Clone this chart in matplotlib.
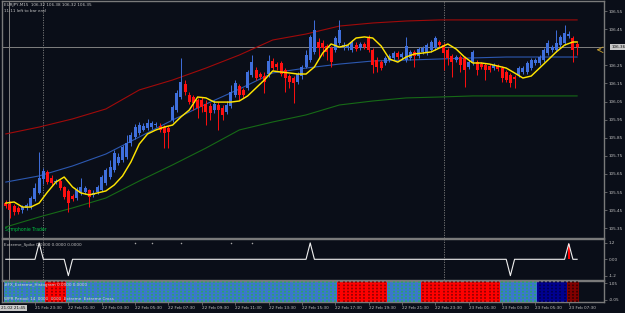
import matplotlib
matplotlib.use('Agg')
import matplotlib.pyplot as plt
import numpy as np

# EURJPY M15 candles, 21 Feb 21:45 .. 23 Feb 08:00 (bar index 0..137)
opens = [105.489, 105.484, 105.473, 105.462, 105.451, 105.462, 105.467, 105.512, 105.545, 105.622,
         105.661, 105.628, 105.605, 105.611, 105.578, 105.556, 105.528, 105.517, 105.545, 105.550,
         105.561, 105.534, 105.550, 105.561, 105.600, 105.633, 105.672, 105.710, 105.727, 105.744,
         105.821, 105.854, 105.876, 105.893, 105.904, 105.909, 105.920, 105.915, 105.909, 105.904,
         105.948, 106.003, 106.075, 106.147, 106.086, 106.075, 106.059, 106.059, 106.036, 106.025,
         106.003, 106.031, 106.014, 105.992, 106.025, 106.086, 106.136, 106.114, 106.125, 106.197,
         106.224, 106.202, 106.191, 106.202, 106.274, 106.257, 106.263, 106.224, 106.191, 106.180,
         106.158, 106.191, 106.241, 106.279, 106.324, 106.379, 106.373, 106.357, 106.346, 106.335,
         106.373, 106.351, 106.346, 106.335, 106.362, 106.346, 106.368, 106.407, 106.335, 106.279,
         106.268, 106.263, 106.279, 106.291, 106.318, 106.296, 106.279, 106.291, 106.324, 106.302,
         106.324, 106.318, 106.335, 106.346, 106.379, 106.362, 106.335, 106.302, 106.279, 106.296,
         106.291, 106.241, 106.263, 106.268, 106.257, 106.252, 106.246, 106.235, 106.246, 106.235,
         106.213, 106.197, 106.186, 106.197, 106.213, 106.213, 106.235, 106.263, 106.263, 106.279,
         106.318, 106.335, 106.335, 106.362, 106.373, 106.412, 106.401, 106.368]
highs = [105.506, 105.500, 105.484, 105.473, 105.478, 105.489, 105.528, 105.600, 105.771, 105.683,
         105.672, 105.644, 105.622, 105.622, 105.583, 105.567, 105.539, 105.578, 105.628, 105.583,
         105.567, 105.561, 105.589, 105.644, 105.683, 105.727, 105.782, 105.766, 105.810, 105.865,
         105.882, 105.926, 105.937, 105.931, 105.954, 105.942, 105.937, 105.931, 105.920, 105.915,
         106.031, 106.114, 106.291, 106.169, 106.103, 106.086, 106.070, 106.075, 106.059, 106.042,
         106.059, 106.047, 106.031, 106.053, 106.141, 106.169, 106.147, 106.125, 106.224, 106.307,
         106.241, 106.213, 106.213, 106.307, 106.291, 106.268, 106.274, 106.235, 106.202, 106.191,
         106.213, 106.252, 106.335, 106.418, 106.501, 106.401, 106.390, 106.368, 106.357, 106.412,
         106.501, 106.379, 106.368, 106.390, 106.379, 106.379, 106.379, 106.418, 106.346, 106.296,
         106.279, 106.302, 106.313, 106.329, 106.329, 106.324, 106.407, 106.335, 106.335, 106.351,
         106.357, 106.373, 106.390, 106.412, 106.390, 106.373, 106.346, 106.313, 106.307, 106.307,
         106.302, 106.279, 106.335, 106.279, 106.268, 106.263, 106.257, 106.263, 106.257, 106.246,
         106.224, 106.208, 106.197, 106.246, 106.246, 106.274, 106.291, 106.291, 106.307, 106.346,
         106.390, 106.362, 106.445, 106.418, 106.473, 106.440, 106.412, 106.379]
lows = [105.462, 105.407, 105.423, 105.429, 105.434, 105.451, 105.456, 105.500, 105.539, 105.594,
        105.594, 105.589, 105.594, 105.561, 105.512, 105.440, 105.500, 105.506, 105.534, 105.539,
        105.467, 105.523, 105.539, 105.556, 105.589, 105.622, 105.661, 105.700, 105.716, 105.733,
        105.804, 105.843, 105.865, 105.887, 105.893, 105.898, 105.909, 105.882, 105.793, 105.793,
        105.937, 105.992, 106.064, 106.086, 106.036, 106.003, 105.959, 105.992, 105.920, 105.948,
        105.987, 105.893, 105.948, 105.981, 106.014, 106.075, 106.059, 106.070, 106.114, 106.186,
        106.169, 106.175, 106.097, 106.186, 106.224, 106.224, 106.191, 106.103, 106.125, 106.042,
        106.147, 106.175, 106.235, 106.268, 106.313, 106.291, 106.302, 106.279, 106.241, 106.324,
        106.362, 106.335, 106.335, 106.324, 106.329, 106.335, 106.340, 106.324, 106.208, 106.213,
        106.224, 106.252, 106.268, 106.279, 106.285, 106.285, 106.268, 106.279, 106.241, 106.291,
        106.313, 106.307, 106.324, 106.335, 106.351, 106.224, 106.252, 106.186, 106.268, 106.213,
        106.130, 106.230, 106.252, 106.197, 106.230, 106.169, 106.213, 106.224, 106.219, 106.158,
        106.158, 106.130, 106.125, 106.186, 106.202, 106.202, 106.224, 106.252, 106.252, 106.268,
        106.307, 106.324, 106.324, 106.351, 106.362, 106.401, 106.268, 106.307]
closes = [105.473, 105.451, 105.440, 105.440, 105.467, 105.478, 105.517, 105.572, 105.628, 105.666,
          105.605, 105.600, 105.611, 105.572, 105.523, 105.489, 105.512, 105.561, 105.578, 105.572,
          105.523, 105.545, 105.578, 105.633, 105.672, 105.688, 105.766, 105.744, 105.799, 105.821,
          105.865, 105.909, 105.920, 105.915, 105.931, 105.931, 105.926, 105.893, 105.876, 105.882,
          106.020, 106.097, 106.158, 106.103, 106.047, 106.042, 106.014, 106.020, 105.992, 105.987,
          106.036, 106.003, 105.976, 106.031, 106.103, 106.152, 106.086, 106.086, 106.213, 106.268,
          106.180, 106.186, 106.158, 106.274, 106.235, 106.241, 106.202, 106.180, 106.158, 106.152,
          106.202, 106.241, 106.307, 106.407, 106.445, 106.346, 106.346, 106.324, 106.268, 106.401,
          106.445, 106.362, 106.357, 106.379, 106.340, 106.368, 106.351, 106.335, 106.252, 106.241,
          106.235, 106.291, 106.302, 106.318, 106.296, 106.313, 106.357, 106.324, 106.302, 106.340,
          106.346, 106.362, 106.379, 106.401, 106.362, 106.318, 106.291, 106.268, 106.296, 106.252,
          106.224, 106.268, 106.324, 106.224, 106.241, 106.224, 106.224, 106.252, 106.230, 106.180,
          106.169, 106.152, 106.175, 106.235, 106.235, 106.263, 106.279, 106.279, 106.296, 106.335,
          106.373, 106.351, 106.373, 106.407, 106.429, 106.423, 106.335, 106.351]

# yellow moving average, read every second bar
ma_bars = list(range(0, 138, 2)) + [137]
ma_vals = [105.489, 105.495, 105.467, 105.467, 105.489, 105.550, 105.605, 105.633, 105.578, 105.545,
           105.534, 105.545, 105.556, 105.589, 105.639, 105.716, 105.815, 105.871, 105.893, 105.909,
           105.920, 105.965, 106.003, 106.075, 106.070, 106.047, 106.047, 106.047, 106.053, 106.081,
           106.125, 106.169, 106.219, 106.213, 106.208, 106.202, 106.202, 106.241, 106.318, 106.368,
           106.351, 106.362, 106.401, 106.407, 106.401, 106.357, 106.285, 106.268, 106.296, 106.313,
           106.318, 106.324, 106.346, 106.368, 106.340, 106.296, 106.263, 106.263, 106.257, 106.246,
           106.235, 106.208, 106.180, 106.191, 106.235, 106.279, 106.324, 106.362, 106.379, 106.379]

# envelope bands, read every eighth bar
band_bars = [0, 8, 16, 24, 32, 40, 48, 56, 64, 72, 80, 88, 96, 104, 112, 120, 128, 137]
band_upper = [105.871, 105.909, 105.954, 106.009, 106.114, 106.169, 106.235, 106.307, 106.390,
              106.423, 106.467, 106.484, 106.495, 106.501, 106.501, 106.501, 106.501, 106.501]
band_mid = [105.605, 105.639, 105.694, 105.760, 105.854, 105.948, 106.036, 106.119, 106.208,
            106.235, 106.257, 106.274, 106.279, 106.285, 106.291, 106.296, 106.296, 106.296]
band_lower = [105.357, 105.412, 105.462, 105.517, 105.611, 105.700, 105.793, 105.893, 105.937,
              105.976, 106.031, 106.053, 106.070, 106.075, 106.081, 106.081, 106.081, 106.081]

# Extreme_Spike indicator
spike_bars = [8, 15, 73, 121, 135]
spike_vals = [1.2, -1.2, 1.2, -1.2, 1.15]
dot_bars = [31, 35, 42, 54, 59]
dot_val = 1.2

# histogram colour runs (state, number of bars)
hist_runs = [('bg', 10), ('red', 5), ('bg', 65), ('red', 12), ('bg', 8),
             ('red', 19), ('bg', 9), ('navy', 7), ('maroon', 3)]

time_ticks = [7, 15, 23, 31, 39, 47, 55, 63, 71, 79, 87, 95, 103, 111, 119, 127, 135]
time_labels = ['21 Feb 23:30', '22 Feb 01:30', '22 Feb 03:30', '22 Feb 05:30', '22 Feb 07:30',
               '22 Feb 09:30', '22 Feb 11:30', '22 Feb 13:30', '22 Feb 15:30', '22 Feb 17:30',
               '22 Feb 19:30', '22 Feb 21:30', '22 Feb 23:30', '23 Feb 01:30', '23 Feb 03:30',
               '23 Feb 05:30', '23 Feb 07:30']
price_ticks = [106.55, 106.45, 106.25, 106.15, 106.05, 105.95, 105.85,
               105.75, 105.65, 105.55, 105.45, 105.35]
last_price = 106.35
day_breaks = [9, 105]

BG = '#0a0e18'
GRID = '#808080'
TXT = '#c4c4c4'
BULL = '#3f6fdc'
BEAR = '#ff1010'
FS = 3.0

fig = plt.figure(figsize=(6.25, 3.13), dpi=100, facecolor=BG)
ax1 = fig.add_axes([2/625, 1-238/313, 602/625, 237/313])
ax2 = fig.add_axes([2/625, 1-280/313, 602/625, 41/313])
ax3 = fig.add_axes([2/625, 1-302/313, 602/625, 21/313])

for ax in (ax1, ax2, ax3):
    ax.set_facecolor(BG)
    ax.set_xlim(-0.91, 143.45)
    for s in ax.spines.values():
        s.set_color('#7a7a7a')
        s.set_linewidth(1.0)
    ax.yaxis.tick_right()
    ax.tick_params(axis='y', length=2, width=0.5, pad=1.5, labelsize=FS,
                   colors=GRID, labelcolor=TXT)
    ax.tick_params(axis='x', bottom=False, labelbottom=False)
    for b in day_breaks:
        ax.axvline(b, color=GRID, lw=0.6, ls=(0, (1.5, 1.5)), zorder=1)
    ax.axvline(0.85, color=GRID, lw=0.7, zorder=1)

# ---- main price panel
ax1.set_ylim(105.296, 106.6055)
ax1.set_yticks(price_ticks)
ax1.set_yticklabels(['%.2f' % p for p in price_ticks])
ax1.axhline(last_price, color=GRID, lw=0.7, zorder=1)

ax1.plot(band_bars, band_upper, color='#a00a0a', lw=0.8, zorder=2)
ax1.plot(band_bars, band_mid, color='#2c58b0', lw=0.8, zorder=2)
ax1.plot(band_bars, band_lower, color='#166a16', lw=0.8, zorder=2)

o = np.array(opens)
c = np.array(closes)
idx = np.arange(len(c))
cols = np.where(c >= o, BULL, BEAR)
ax1.vlines(idx, lows, highs, colors=cols, lw=0.7, zorder=3)
ax1.bar(idx, np.maximum(np.abs(c - o), 0.003), bottom=np.minimum(o, c),
        width=0.72, color=cols, lw=0, zorder=4)

ax1.plot(ma_bars, ma_vals, color='#ffe400', lw=1.05, zorder=5)

ax1.annotate('', xy=(141.0, 106.336), xytext=(143.3, 106.336),
             arrowprops=dict(arrowstyle='->', color='#c8a030', lw=0.6))
ax1.text(1.012, last_price, '106.36', transform=ax1.get_yaxis_transform(),
         fontsize=FS, color='#101010', va='center', ha='left',
         bbox=dict(boxstyle='square,pad=0.25', fc='#c8c8c8', ec='none'), clip_on=False)

ax1.text(0.0035, 0.983, 'EURJPY,M15  106.32 106.38 106.32 106.35', transform=ax1.transAxes,
         fontsize=FS, color=TXT, va='center')
ax1.text(0.0035, 0.958, '11:11 left to bar end', transform=ax1.transAxes,
         fontsize=FS, color=TXT, va='center')
ax1.text(0.005, 0.034, 'Symphonie Trader', transform=ax1.transAxes,
         fontsize=FS + 0.3, color='#00c040', va='center')

# ---- Extreme_Spike panel
spike = np.zeros(len(c))
spike[spike_bars] = spike_vals
ax2.set_ylim(-1.52, 1.49)
ax2.set_yticks([1.2, 0.0, -1.2])
ax2.set_yticklabels(['1.2', '0.00', '-1.2'])
ax2.bar(spike_bars[-1], spike_vals[-1], width=0.45, color='#ff0000', lw=0, zorder=2)
ax2.plot(idx, spike, color='#f0f0f0', lw=0.8, zorder=3)
ax2.scatter(dot_bars, [dot_val] * len(dot_bars), s=1.2, color='#a8a8a8', lw=0, zorder=3)
ax2.text(0.0035, 0.85, 'Extreme_Spike 0.0000 0.0000 0.0000', transform=ax2.transAxes,
         fontsize=FS, color=TXT, va='center')

# ---- histogram panel
face = {'bg': '#3a78cc', 'red': '#ff0000', 'navy': '#000090', 'maroon': '#820000'}
dots = {'bg': '#2aa860', 'red': '#8a0000', 'navy': '#00004a', 'maroon': '#300000'}
states = []
for name, count in hist_runs:
    states += [name] * count
ax3.set_ylim(-0.18, 1.18)
ax3.set_yticks([1.05, -0.05])
ax3.set_yticklabels(['1.05', '-0.05'])
ax3.bar(idx, 1.36, bottom=-0.18, width=1.0, color=[face[s] for s in states], lw=0, zorder=2)
ax3.vlines(idx, -0.18, 1.18, colors=[dots[s] for s in states], lw=1.2,
           linestyles=(0, (1, 0.9)), zorder=3)
ax3.text(0.0035, 0.80, '#FX_Extreme_Histogram 0.0000 0.0000', transform=ax3.transAxes,
         fontsize=FS, color='#d8d8d8', va='center', zorder=5)
ax3.text(0.0035, 0.12, 'WPR Period: 14  0000  0000  Extreme  Extreme Cross', transform=ax3.transAxes,
         fontsize=FS, color='#d8d8d8', va='center', zorder=5)

# time axis
ax3.tick_params(axis='x', bottom=True, labelbottom=True, length=2, width=0.5,
                pad=1.2, labelsize=FS, colors=GRID, labelcolor=TXT)
ax3.set_xticks(time_ticks)
ax3.set_xticklabels(time_labels)
for t in ax3.get_xticklabels():
    t.set_ha('left')
fig.text(1/625, 1-308/313, '21.02 21:45', fontsize=FS, color='#101010', va='center', ha='left',
         bbox=dict(boxstyle='square,pad=0.25', fc='#c8c8c8', ec='none'))

fig.savefig('out.png', dpi=100, facecolor=BG)
